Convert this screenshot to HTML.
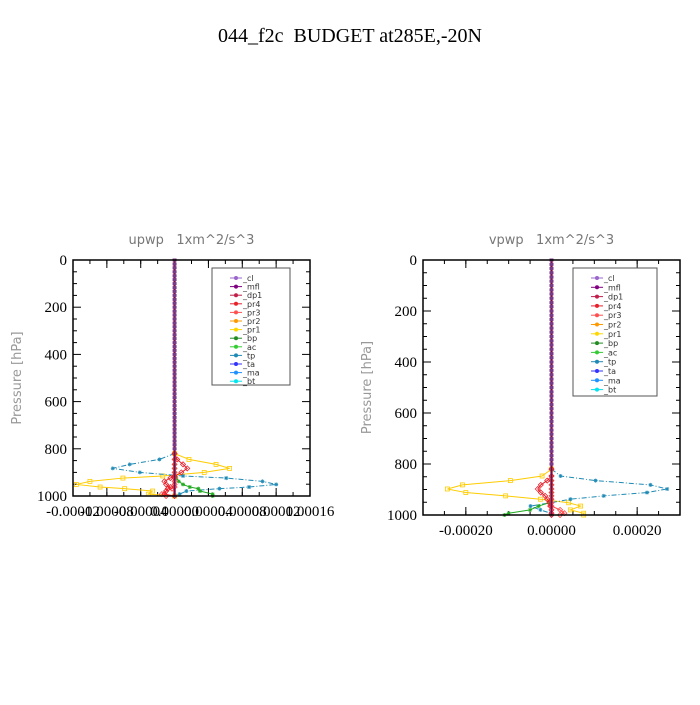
<!DOCTYPE html>
<html><head><meta charset="utf-8"><style>
body{margin:0;background:#fff;width:700px;height:700px;overflow:hidden}
svg text{white-space:pre}
</style></head><body>
<svg id="c" width="700" height="700" xmlns="http://www.w3.org/2000/svg" font-family="Liberation Serif, serif" xml:space="preserve">
<text x="350" y="42" text-anchor="middle" font-size="20">044_f2c  BUDGET at285E,-20N</text>
</svg>
<script>
const upperLevels=[0,17,33,50,67,83,100,117,133,150,167,183,200,217,233,250,267,283,300,317,333,350,367,383,400,417,433,450,467,483,500,517,533,550,567,583,600,617,633,650,667,683,700,717,733,750,767,783,800];
const leftLevels=[820,845,866,883,900,915,924,938,951,962,969,979,992,1000];
const leftPr1=[0,1.7e-5,4.9e-5,6.5e-5,3.5e-5,-1.4e-5,-6.1e-5,-1.0e-4,-1.16e-4,-8.8e-5,-5.9e-5,-2.6e-5,-3.1e-5,0];
const leftTp=[0,-1.8e-5,-5.3e-5,-7.3e-5,-4.1e-5,1e-5,6.1e-5,1.04e-4,1.2e-4,8.8e-5,5.3e-5,1.4e-5,6e-6,0];
const leftBp=[0,0,0,0,0,0,2e-6,5e-6,1e-5,1.8e-5,2.8e-5,3e-5,4.5e-5,4.5e-5];
const leftPr4=[0,3e-6,1e-5,1.5e-5,8e-6,0,-5e-6,-1.2e-5,-1e-5,-5e-6,-8e-6,-1e-5,-1.2e-5,0];
const leftPr3=[0,0,0,0,0,0,0,0,0,0,-3e-6,-1e-5,-1.5e-5,-1e-5];
const rightLevels=[820,847,865,882,898,912,925,938,952,965,980,993,1000];
const rightPr1=[0,-2.2e-5,-9.6e-5,-2.08e-4,-2.43e-4,-2.0e-4,-1.07e-4,-2.6e-5,4e-5,6.8e-5,4.4e-5,7.5e-5,7.5e-5];
const rightTp=[0,2.1e-5,1.03e-4,2.31e-4,2.7e-4,2.23e-4,1.22e-4,4.4e-5,-2e-6,-4.9e-5,-2.6e-5,-2e-6,0];
const rightBp=[0,0,0,0,0,0,0,0,-5e-6,-3e-5,-5e-5,-1.0e-4,-1.1e-4];
const rightPr4=[0,0,-1e-5,-2.5e-5,-3.2e-5,-2.5e-5,-1.5e-5,-1e-5,-5e-6,-3e-6,0,0,0];
const rightPr3=[0,0,0,0,0,0,0,0,0,0,2e-5,3e-5,2e-5];
const leftXTicks=["-0.00012","-0.00008","-0.00004","0.00000","0.00004","0.00008","0.00012","0.00016"];
const leftXTickVals=[-0.00012,-0.00008,-0.00004,0,0.00004,0.00008,0.00012,0.00016];
const rightXTicks=["-0.00020","0.00000","0.00020"];
const rightXTickVals=[-0.0002,0,0.0002];
const yTicks=[0,200,400,600,800,1000];
const legendNames=["_cl","_mfl","_dp1","_pr4","_pr3","_pr2","_pr1","_bp","_ac","_tp","_ta","_ma","_bt"];
const legendColors=["#9966cc","#800080","#c0204a","#e8202a","#ff5050","#ff9900","#ffd700","#228b22","#33cc33","#1f8ab5","#3333ff","#1e90ff","#00e5ee"];

const NS="http://www.w3.org/2000/svg",svg=document.getElementById('c');
function mk(t,a,p){const e=document.createElementNS(NS,t);for(const k in a)e.setAttribute(k,a[k]);(p||svg).appendChild(e);return e;}
function panel(cfg){
  const g=mk('g',{});
  
  
  const X=v=>cfg.x0+(v-cfg.xmin)/(cfg.xmax-cfg.xmin)*(cfg.x1-cfg.x0);
  const Y=p=>cfg.y0+p/1000*(cfg.y1-cfg.y0);
  const st=mk('text',{x:(cfg.x0+cfg.x1)/2,y:cfg.y0-16,'text-anchor':'middle','font-size':13,fill:'#777','font-family':'DejaVu Sans, sans-serif'},g);st.textContent=cfg.sub;
  
  const yl=mk('text',{x:0,y:0,transform:`translate(${cfg.x0-52},${(cfg.y0+cfg.y1)/2}) rotate(-90)`,'text-anchor':'middle','font-size':13,fill:'#999','font-family':'DejaVu Sans, sans-serif'},g);yl.textContent='Pressure [hPa]';
  
  for(let p=0;p<=1000;p+=50){const y=Y(p),L=p%200==0?8:4;
    mk('line',{x1:cfg.x0,x2:cfg.x0+L,y1:y,y2:y,stroke:'#000'},g);mk('line',{x1:cfg.x1,x2:cfg.x1-L,y1:y,y2:y,stroke:'#000'},g);}
  yTicks.forEach(p=>{const t=mk('text',{x:cfg.x0-6,y:Y(p)+5,'text-anchor':'end','font-size':15},g);t.textContent=p;
    });
  const step=cfg.minor;
  for(let v=cfg.xmin;v<=cfg.xmax+1e-12;v+=step){const x=X(v);mk('line',{x1:x,x2:x,y1:cfg.y1,y2:cfg.y1-4,stroke:'#000'},g);mk('line',{x1:x,x2:x,y1:cfg.y0,y2:cfg.y0+4,stroke:'#000'},g);}
  cfg.tv.forEach((v,i)=>{const x=X(v);mk('line',{x1:x,x2:x,y1:cfg.y1,y2:cfg.y1-8,stroke:'#000'},g);mk('line',{x1:x,x2:x,y1:cfg.y0,y2:cfg.y0+8,stroke:'#000'},g);
    const t=mk('text',{x:x,y:cfg.y1+20,'text-anchor':'middle','font-size':15},g);t.textContent=cfg.tl[i];
    });
  function series(vals,color,dash,marker,nm){
    const pts=vals.map((v,i)=>[X(v),Y(cfg.levels[i])]);
    const pl=mk('polyline',{points:pts.map(p=>p.join(',')).join(' '),fill:'none',stroke:color,'stroke-width':1,'stroke-dasharray':dash||''},g);
    
    pts.forEach(p=>{if(marker=='sq')mk('rect',{x:p[0]-2,y:p[1]-2,width:4,height:4,fill:'none',stroke:color,'stroke-width':0.8},g);
      else if(marker=='dia')mk('path',{d:`M${p[0]-2.5},${p[1]}l2.5,-2.5l2.5,2.5l-2.5,2.5z`,fill:'none',stroke:color,'stroke-width':0.8},g);
      else mk('path',{d:`M${p[0]-2},${p[1]}h4M${p[0]},${p[1]-2}v4M${p[0]-1.5},${p[1]-1.5}l3,3M${p[0]+1.5},${p[1]-1.5}l-3,3`,stroke:color,'stroke-width':0.8},g);});
  }
  series(cfg.pr1,'#ffcc00','','sq','pr1');
  series(cfg.tp,'#1f8ab5','5,2,1,2','ast','tp');
  series(cfg.bp,'#22aa22','','ast','bp');
  series(cfg.pr3,'#ff4040','','dia','pr3');
  series(cfg.pr4,'#e8202a','','dia','pr4');
  const zx=X(0);
  const cl=mk('line',{x1:zx,x2:zx,y1:Y(0),y2:Y(1000),stroke:'#c0204a','stroke-width':2.5},g);
  
  mk('line',{x1:zx,x2:zx,y1:Y(0),y2:Y(1000),stroke:'#4a1a5a','stroke-width':1},g);
  upperLevels.forEach(p=>mk('rect',{x:zx-2,y:Y(p)-1.5,width:4,height:3,fill:'#7a3a8a'},g));
  mk('rect',{x:cfg.x0,y:cfg.y0,width:cfg.x1-cfg.x0,height:cfg.y1-cfg.y0,fill:'none',stroke:'#000','stroke-width':1.5},g);
  const lg=mk('g',{},g);
  mk('rect',{x:cfg.lx,y:cfg.ly,width:cfg.lw,height:cfg.lh,fill:'#fff',stroke:'#555'},lg);
  legendNames.forEach((n,i)=>{const y=cfg.ly+10+i*cfg.ls;
    mk('line',{x1:cfg.lx+18,x2:cfg.lx+30,y1:y,y2:y,stroke:legendColors[i]},lg);
    mk('circle',{cx:cfg.lx+24,cy:y,r:2,fill:legendColors[i]},lg);
    const t=mk('text',{x:cfg.lx+31,y:y+3,'font-size':8,fill:'#333','font-family':'DejaVu Sans, sans-serif'},lg);t.textContent=n;
    });
}
panel({name:'upwp-panel',sub:'upwp   1xm^2/s^3',x0:73,x1:310,y0:260,y1:496,xmin:-0.00012,xmax:0.00016,minor:0.00002,tv:leftXTickVals,tl:leftXTicks,
  levels:leftLevels,pr1:leftPr1,tp:leftTp,bp:leftBp,pr4:leftPr4,pr3:leftPr3,lx:212,ly:268,lw:78,lh:117,ls:8.6});
panel({name:'vpwp-panel',sub:'vpwp   1xm^2/s^3',x0:423,x1:680,y0:260,y1:515,xmin:-0.0003,xmax:0.0003,minor:0.00005,tv:rightXTickVals,tl:rightXTicks,
  levels:rightLevels,pr1:rightPr1,tp:rightTp,bp:rightBp,pr4:rightPr4,pr3:rightPr3,lx:573,ly:268,lw:84,lh:128,ls:9.3});
</script>
</body></html>
